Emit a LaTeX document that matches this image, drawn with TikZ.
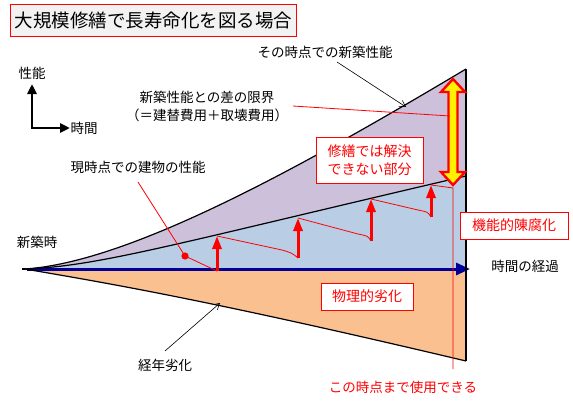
\documentclass[tikz,border=0pt]{standalone}
\usepackage{fontspec}
\setmainfont{Noto Sans CJK JP}
\usetikzlibrary{arrows.meta}
\definecolor{purp}{HTML}{CCC0DA}
\definecolor{bluf}{HTML}{B9CDE5}
\definecolor{oran}{HTML}{FAC090}
\definecolor{axisblue}{HTML}{000099}
\definecolor{titlefill}{HTML}{F2F2F2}
\begin{document}
\begin{tikzpicture}[x=1pt,y=-1pt,
  lbl/.style={font=\fontsize{13.5}{16}\selectfont, inner sep=0pt},
  redlbl/.style={lbl, text=red},
  redbox/.style={draw=red, fill=white, line width=0.8pt, text=red, font=\fontsize{14}{18}\selectfont, align=center, inner sep=0pt},
  thinred/.style={red, line width=0.8pt},
  thickred/.style={red, line width=3pt, -{Triangle[width=9pt,length=13pt]}},
  outline/.style={black, line width=1.2pt},
  leader/.style={black, line width=0.6pt, -{Straight Barb[length=6pt,width=7pt]}},
  legend/.style={black, line width=2.5pt, {Triangle[width=9pt,length=10pt]}-{Triangle[width=9pt,length=10pt]}}]
\useasboundingbox (0,0) rectangle (573,407);

% key coordinates
\coordinate (O) at (25,269);
\coordinate (TR) at (466,69);
\coordinate (MR) at (466,176);
\coordinate (AR) at (466,269);
\coordinate (BR) at (466,361);

% filled regions
\fill[purp] (O) .. controls (130,262) and (300,168) .. (TR) -- (MR) .. controls (170,245) and (100,266) .. (O) -- cycle;
\fill[bluf] (O) .. controls (100,266) and (170,245) .. (MR) -- (AR) -- cycle;
\fill[oran] (O) -- (AR) -- (BR) .. controls (200,298) and (100,282) .. (O) -- cycle;

% axis arrow
\coordinate (axs) at (27,269);
\coordinate (axe) at (470,269);
\draw[axisblue, line width=3pt, -{Triangle[width=12pt,length=14pt]}] (axs) -- (axe);

% outlines
\draw[outline] (O) .. controls (130,262) and (300,168) .. (TR);
\draw[outline] (O) .. controls (100,266) and (170,245) .. (MR);
\draw[outline] (O) .. controls (100,282) and (200,298) .. (BR);
\draw[outline] (TR) -- (BR);
\draw[outline] (O) -- (22,269);

% red saw-tooth performance line
\coordinate (dot) at (185,256);
\coordinate (a1b) at (217,271); \coordinate (a1t) at (217,236);
\coordinate (a2b) at (298,258); \coordinate (a2t) at (298,218);
\coordinate (a3b) at (371,241); \coordinate (a3t) at (371,199);
\coordinate (a4b) at (431,217); \coordinate (a4t) at (431,185);
\coordinate (vt) at (453,188);
\coordinate (vb) at (453,369);
\draw[thinred] (dot) -- (a1b);
\draw[thinred] (a1t) -- (282,250) .. controls (292,253) .. (a2b);
\draw[thinred] (a2t) -- (358,234) .. controls (368,236) .. (a3b);
\draw[thinred] (a3t) -- (418,210) .. controls (428,212) .. (a4b);
\draw[thinred] (a4t) -- (vt) -- (vb);
\draw[thickred] (a1b) -- (a1t);
\draw[thickred] (a2b) -- (a2t);
\draw[thickred] (a3b) -- (a3t);
\draw[thickred] (a4b) -- (a4t);
\fill[red] (dot) circle (3.6pt);

% yellow double arrow
\draw[red, line width=2.4pt, fill=yellow, line join=miter]
  (453,79) -- (465,92) -- (457.5,92) -- (457.5,172) -- (465,172) -- (453,185)
  -- (441,172) -- (448.5,172) -- (448.5,92) -- (441,92) -- cycle;

% title
\node[draw=red, fill=titlefill, line width=1pt, minimum width=286pt, minimum height=32pt,
      anchor=north west, inner sep=0pt, font=\fontsize{18.5}{22}\selectfont] (title) at (10,4)
      {大規模修繕で長寿命化を図る場合};

% legend
\node[lbl] (lperf) at (32,73) {性能};
\node[lbl] (ltime) at (84,128) {時間};
\coordinate (lgt) at (32,84);
\coordinate (lgc) at (32,128);
\coordinate (lgr) at (70,128);
\draw[legend] (lgt) -- (lgc) -- (lgr);

% labels
\node[lbl] (newperf) at (325,52) {その時点での新築性能};
\coordinate (np1) at (337,62);
\coordinate (np2) at (406,107);
\draw[leader] (np1) -- (np2);

\node[lbl] (limit1) at (207,97) {新築性能との差の限界};
\node[lbl] (limit2) at (207,115) {（＝建替費用＋取壊費用）};
\coordinate (lm1) at (293,106);
\coordinate (lm2) at (450,116);
\draw[thinred] (lm1) -- (lm2);

\node[lbl] (curperf) at (138,167) {現時点での建物の性能};
\coordinate (cp1) at (138,182);
\draw[thinred] (cp1) -- (dot);

\node[lbl] (shinchiku) at (37,242) {新築時};

\node[redbox, minimum width=107pt, minimum height=46pt] (unsolv) at (369.5,160) {修繕では解決\\できない部分};
\node[redbox, minimum width=108pt, minimum height=27pt] (obsol) at (514,225.5) {機能的陳腐化};
\node[redbox, minimum width=92pt, minimum height=27pt] (phys) at (367,296.5) {物理的劣化};

\node[lbl] (elapsed) at (525,266) {時間の経過};

\node[lbl] (aging) at (165,365) {経年劣化};
\coordinate (ag1) at (165,351);
\coordinate (ag2) at (220,303);
\draw[leader] (ag1) -- (ag2);

\node[redlbl] (usable) at (403,387) {この時点まで使用できる};
\end{tikzpicture}
\end{document}
